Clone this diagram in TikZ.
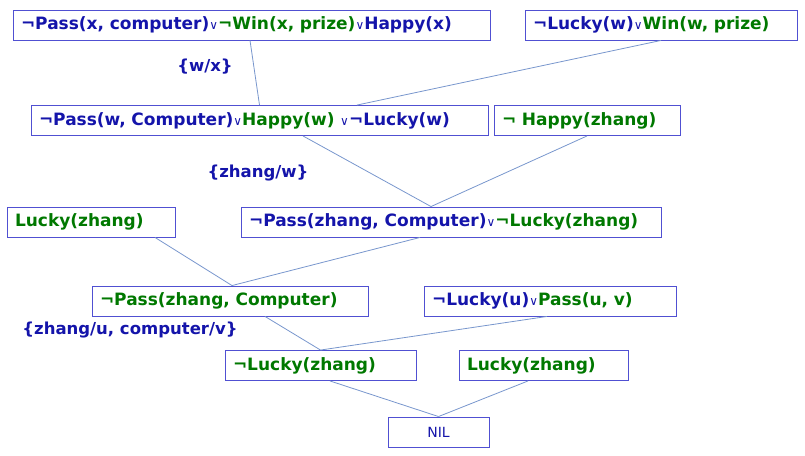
\documentclass[tikz,border=0pt]{standalone}
\usepackage{fontspec}
\setmainfont{DejaVu Sans}
\usetikzlibrary{positioning}
\definecolor{bl}{RGB}{20,20,170}
\definecolor{gr}{RGB}{0,120,0}
\definecolor{edge}{RGB}{80,80,210}
\definecolor{link}{RGB}{120,150,205}
\newcommand{\bt}[1]{\textcolor{bl}{#1}}
\newcommand{\gt}[1]{\textcolor{gr}{#1}}
\newcommand{\orv}{\textcolor{bl}{\mdseries\fontsize{12}{12}\selectfont ∨}}
\tikzset{
  clause/.style={draw=edge, line width=0.9pt, minimum height=30pt, inner ysep=0pt,
    inner xsep=8pt, align=left, font=\bfseries\fontsize{17}{17}\selectfont},
  wide/.style={text width=#1pt-16pt},
  subst/.style={text=bl, font=\bfseries\fontsize{16.5}{16.5}\selectfont},
  res/.style={draw=link, line width=0.8pt}
}
\begin{document}
\begin{tikzpicture}[x=1pt,y=-1pt]
\useasboundingbox (0,0) rectangle (805,455);

\node[clause, wide=477] (p1) at (251.5,25) {\bt{¬Pass(x, computer)}\orv\gt{¬Win(x, prize)}\orv\bt{Happy(x)}};
\node[clause, wide=272] (p2) at (661,25) {\bt{¬Lucky(w)}\orv\gt{Win(w, prize)}};

\node[clause, wide=457] (r1) at (259.5,120.5) {\bt{¬Pass(w, Computer)}\orv\gt{Happy(w)} \orv\bt{¬Lucky(w)}};
\node[clause, wide=186] (p3) at (587,120.5) {\gt{¬ Happy(zhang)}};

\node[clause, wide=168] (p4) at (91,222) {\gt{Lucky(zhang)}};
\node[clause, wide=420] (r2) at (451,222) {\bt{¬Pass(zhang, Computer)}\orv\gt{¬Lucky(zhang)}};

\node[clause, wide=276] (r3) at (230,301) {\gt{¬Pass(zhang, Computer)}};
\node[clause, wide=252] (p5) at (550,301) {\bt{¬Lucky(u)}\orv\gt{Pass(u, v)}};

\node[clause, wide=191] (r4) at (320.5,365.5) {\gt{¬Lucky(zhang)}};
\node[clause, wide=169] (p6) at (543.5,365.5) {\gt{Lucky(zhang)}};

\node[clause, minimum width=101pt, align=center, font=\fontsize{14}{14}\selectfont, text=bl] (nil) at (438.5,432) {NIL};

\node[subst] (s1) at (205,67) {\{w/x\}};
\node[subst] (s2) at (258,173) {\{zhang/w\}};
\node[subst] (s3) at (130,330) {\{zhang/u, computer/v\}};

\draw[res] ([xshift=-1.5pt]p1.south) -- (r1.north);
\draw[res] (p2.south) -- ([xshift=97.5pt]r1.north);
\draw[res] ([xshift=43.5pt]r1.south) -- ([xshift=-20pt]r2.north);
\draw[res] (p3.south) -- ([xshift=-20pt]r2.north);
\draw[res] ([xshift=64pt]p4.south) -- ([xshift=2pt]r3.north);
\draw[res] ([xshift=-31pt]r2.south) -- ([xshift=2pt]r3.north);
\draw[res] ([xshift=35pt]r3.south) -- (r4.north);
\draw[res] ([xshift=-3pt]p5.south) -- (r4.north);
\draw[res] ([xshift=9.5pt]r4.south) -- (nil.north);
\draw[res] ([xshift=-15.5pt]p6.south) -- (nil.north);

\end{tikzpicture}
\end{document}
